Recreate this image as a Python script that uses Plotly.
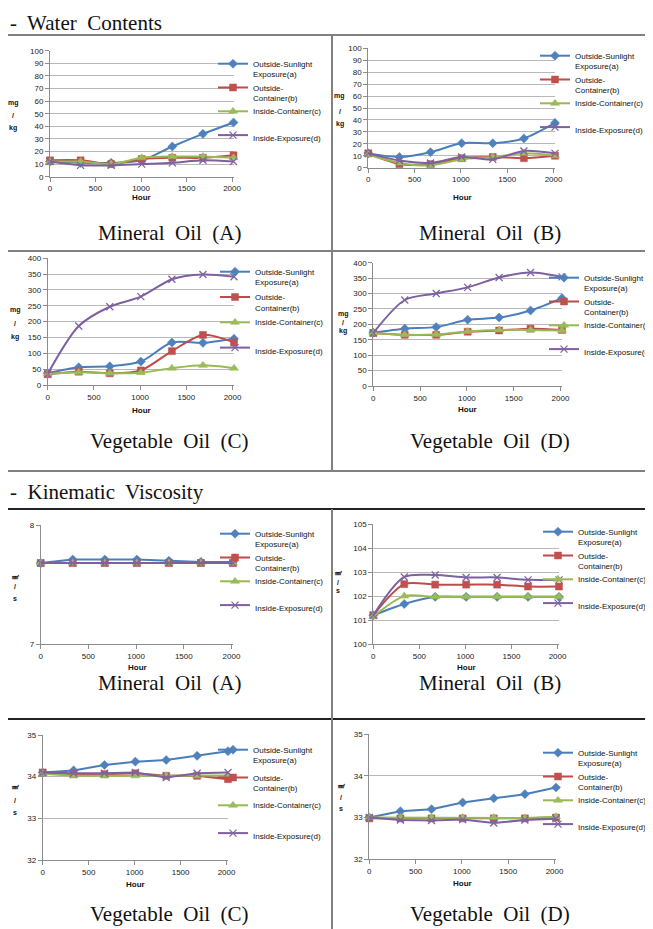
import plotly.graph_objects as go

# The page body has a default 8px margin, so the figure is sized to the visible area
# and every pixel position below is given in window coordinates.
OFF = 8
W, H = 653 - OFF, 929 - OFF

hours = [0, 336, 672, 1008, 1344, 1680, 2016]
series_names = ["Outside-Sunlight<br>Exposure(a)", "Outside-<br>Container(b)",
                "Inside-Container(c)<br>\u00a0", "Inside-Exposure(d)"]
captions = ["Mineral\u00a0 Oil\u00a0 (A)", "Mineral\u00a0 Oil\u00a0 (B)",
            "Vegetable\u00a0 Oil\u00a0 (C)", "Vegetable\u00a0 Oil\u00a0 (D)"]

# Water contents (mg/kg)
wc_A_a = [12, 11, 11, 13, 24, 34, 43]
wc_A_b = [13, 13, 10, 14, 15, 15, 17]
wc_A_c = [12, 12, 10, 15, 16, 16, 15]
wc_A_d = [12, 9, 9, 10, 11, 13, 12]

wc_B_a = [12, 9, 13, 20.5, 20.5, 24.5, 37.5]
wc_B_b = [12, 3, 3, 8, 9, 8, 10]
wc_B_c = [11, 4, 2, 7, 9, 12, 10]
wc_B_d = [12, 6, 4, 9, 7, 14, 12]

wc_C_a = [37, 56, 59, 74, 134, 133, 146]
wc_C_b = [34, 42, 37, 46, 107, 158, 134]
wc_C_c = [35, 40, 37, 39, 53, 62, 53]
wc_C_d = [35, 186, 247, 279, 334, 349, 342]

wc_D_a = [173, 186, 191, 215, 222, 245, 285]
wc_D_b = [172, 166, 166, 176, 180, 186, 182]
wc_D_c = [172, 166, 167, 177, 182, 182, 180]
wc_D_d = [172, 279, 300, 320, 352, 368, 354]

# Kinematic viscosity (mm2/s)
kv_A_a = [7.68, 7.71, 7.71, 7.71, 7.70, 7.69, 7.69]
kv_A_b = [7.68, 7.68, 7.68, 7.68, 7.68, 7.68, 7.68]
kv_A_c = [7.68, 7.68, 7.68, 7.68, 7.68, 7.68, 7.68]
kv_A_d = [7.68, 7.68, 7.68, 7.68, 7.68, 7.68, 7.68]

kv_B_a = [101.2, 101.67, 101.97, 101.97, 101.97, 101.97, 101.97]
kv_B_b = [101.2, 102.5, 102.48, 102.48, 102.48, 102.4, 102.4]
kv_B_c = [101.15, 102.0, 101.97, 101.97, 101.97, 101.97, 101.97]
kv_B_d = [101.2, 102.8, 102.88, 102.78, 102.78, 102.68, 102.68]

kv_C_a = [34.10, 34.15, 34.28, 34.36, 34.40, 34.50, 34.61]
kv_C_b = [34.10, 34.06, 34.06, 34.08, 34.02, 34.02, 33.94]
kv_C_c = [34.07, 34.02, 34.02, 34.02, 34.02, 34.02, 34.03]
kv_C_d = [34.10, 34.08, 34.08, 34.10, 33.98, 34.08, 34.10]

kv_D_a = [33.00, 33.15, 33.20, 33.36, 33.46, 33.56, 33.72]
kv_D_b = [32.98, 32.98, 32.98, 32.98, 32.98, 32.98, 33.00]
kv_D_c = [33.00, 33.00, 33.00, 33.00, 33.00, 32.99, 33.02]
kv_D_d = [33.00, 32.94, 32.93, 32.95, 32.87, 32.94, 32.97]

line_colors = ["#4A7EBB", "#BE4B48", "#98B954", "#7D60A0"]
marker_colors = ["#4F81BD", "#C0504D", "#9BBB59", "#8064A2"]
symbols = ["diamond", "square", "triangle-up", "x-thin-open"]
msizes = [7, 7, 8, 7]

# panel layout in window pixels
panels = [
    dict(data=[wc_A_a, wc_A_b, wc_A_c, wc_A_d], x0=50, x1=233.5, yb=176.7, yt=50.7,
         rng=[0, 100], dt=10, ylab=["mg", "/", "kg"], ylx=13, yly=[103, 115, 128],
         lx=255, ly=64, gap=0, hour=(141, 198), smooth=True),
    dict(data=[wc_B_a, wc_B_b, wc_B_c, wc_B_d], x0=368.3, x1=555, yb=167.7, yt=48.3,
         rng=[0, 100], dt=10, ylab=["mg", "/", "kg"], ylx=339.5, yly=[96, 111, 124],
         lx=577, ly=56, gap=0, hour=(462, 198), smooth=True),
    dict(data=[wc_C_a, wc_C_b, wc_C_c, wc_C_d], x0=47.7, x1=234, yb=385, yt=258.3,
         rng=[0, 400], dt=50, ylab=["mg", "/", "kg"], ylx=15, yly=[310, 324, 337],
         lx=257, ly=272, gap=1.5, hour=(141, 410), smooth=True),
    dict(data=[wc_D_a, wc_D_b, wc_D_c, wc_D_d], x0=373.3, x1=562, yb=386, yt=262.7,
         rng=[0, 400], dt=50, ylab=["mg", "/", "kg"], ylx=343, yly=[314, 323, 331],
         lx=586, ly=278, gap=0, hour=(467, 409), smooth=True),
    dict(data=[kv_A_a, kv_A_b, kv_A_c, kv_A_d], x0=40.7, x1=233, yb=644, yt=525,
         rng=[7, 8], dt=1, ylab=["㎟", "/", "s"], ylx=15, yly=[576, 586, 598],
         lx=257, ly=534, gap=0, hour=(137, 667), smooth=False),
    dict(data=[kv_B_a, kv_B_b, kv_B_c, kv_B_d], x0=373.3, x1=559, yb=644, yt=524.3,
         rng=[100, 105], dt=1, ylab=["㎟", "/", "s"], ylx=338, yly=[572, 582, 590],
         lx=580, ly=532, gap=0, hour=(466, 667), smooth=True),
    dict(data=[kv_C_a, kv_C_b, kv_C_c, kv_C_d], x0=42.7, x1=228, yb=860, yt=735,
         rng=[32, 35], dt=1, ylab=["㎟", "/", "s"], ylx=15, yly=[786, 800, 812],
         lx=255, ly=750, gap=4, hour=(135, 884), smooth=False),
    dict(data=[kv_D_a, kv_D_b, kv_D_c, kv_D_d], x0=369.3, x1=556, yb=859.3, yt=734,
         rng=[32, 35], dt=1, ylab=["㎟", "/", "s"], ylx=341, yly=[785, 797, 808],
         lx=580, ly=753, gap=0, hour=(462, 883), smooth=False),
]

caption_pos = [(169, 233), (490, 233), (169, 441), (490, 441),
               (169, 683), (490, 683), (169, 914), (490, 914)]
caption_idx = [0, 1, 2, 3, 0, 1, 2, 3]


def fx(px):
    return (px - OFF) / W


def fy(py):
    return 1 - (py - OFF) / H


fig = go.Figure()
layout = dict(width=W, height=H, margin=dict(l=0, r=0, t=0, b=0, pad=0, autoexpand=False),
              paper_bgcolor="white", plot_bgcolor="white", showlegend=True)
annotations = []
shapes = []

sans = "Liberation Sans, Arial, sans-serif"
serif = "Liberation Serif, Times New Roman, serif"
tick_font = dict(family=sans, size=8, color="#222")


def note(x, y, text, font, xanchor="center", yanchor="middle"):
    annotations.append(dict(x=fx(x), y=fy(y), xref="paper", yref="paper", text=text,
                            showarrow=False, xanchor=xanchor, yanchor=yanchor,
                            font=font))


for k, p in enumerate(panels):
    n = k + 1
    xa = "xaxis" if n == 1 else f"xaxis{n}"
    ya = "yaxis" if n == 1 else f"yaxis{n}"
    xr = "x" if n == 1 else f"x{n}"
    yr = "y" if n == 1 else f"y{n}"
    lg = "legend" if n == 1 else f"legend{n}"
    for s in range(4):
        fig.add_trace(go.Scatter(
            x=hours, y=p["data"][s], name=series_names[s], xaxis=xr, yaxis=yr,
            legend=lg, legendgroup=f"p{n}s{s}", mode="lines+markers",
            line=dict(color=line_colors[s], width=2,
                      shape="spline" if p["smooth"] else "linear", smoothing=0.8),
            marker=dict(symbol=symbols[s], size=msizes[s], color=marker_colors[s],
                        line=dict(color=marker_colors[s], width=1.3 if s == 3 else 0.5)),
            cliponaxis=False,
        ))
    layout[xa] = dict(domain=[fx(p["x0"]), fx(p["x1"])], range=[0, 2016], anchor=yr,
                      tickmode="array", tickvals=[0, 500, 1000, 1500, 2000],
                      showgrid=False, zeroline=False, showline=True, linecolor="#8c8c8c",
                      linewidth=1, ticks="outside", ticklen=4, tickcolor="#8c8c8c",
                      tickfont=tick_font, fixedrange=True)
    layout[ya] = dict(domain=[fy(p["yb"]), fy(p["yt"])], range=p["rng"], anchor=xr,
                      dtick=p["dt"], tick0=p["rng"][0], showgrid=True, gridcolor="#b8b8b8",
                      gridwidth=1, zeroline=False, showline=True, linecolor="#8c8c8c",
                      linewidth=1, ticks="outside", ticklen=4, tickcolor="#8c8c8c",
                      tickfont=tick_font, fixedrange=True)
    layout[lg] = dict(x=fx(p["lx"] - 42), y=fy(p["ly"] - 12), xanchor="left", yanchor="top",
                      bgcolor="rgba(0,0,0,0)", borderwidth=0, valign="top",
                      tracegroupgap=p["gap"], itemwidth=30,
                      font=dict(family=sans, size=8, color="#111"))
    for txt, yy in zip(p["ylab"], p["yly"]):
        note(p["ylx"], yy, f"<b>{txt}</b>", dict(family=sans, size=7, color="#111"))
    hx, hy = p["hour"]
    note(hx, hy, "<b>Hour</b>", dict(family=sans, size=8, color="#111"))
    cx, cy = caption_pos[k]
    note(cx, cy, captions[caption_idx[k]], dict(family=serif, size=21, color="#111"))

note(8, 8.5, "-\u00a0 Water\u00a0 Contents", dict(family=serif, size=21, color="#111"),
     xanchor="left", yanchor="top")
note(8, 492, "-\u00a0 Kinematic\u00a0 Viscosity", dict(family=serif, size=21, color="#111"),
     xanchor="left")


def hline(y, color):
    shapes.append(dict(type="line", xref="paper", yref="paper", x0=fx(8), x1=fx(653),
                       y0=fy(y), y1=fy(y), line=dict(color=color, width=2)))


def vline(x, ya, yb):
    shapes.append(dict(type="line", xref="paper", yref="paper", x0=fx(x), x1=fx(x),
                       y0=fy(ya), y1=fy(yb), line=dict(color="#808080", width=2)))


hline(35, "#808080")
hline(251, "#808080")
hline(471, "#808080")
vline(332, 35, 471)
hline(509, "#222222")
hline(719, "#222222")
vline(332, 509, 929)

layout["annotations"] = annotations
layout["shapes"] = shapes
fig.update_layout(**layout)
fig.write_html("out.html")
